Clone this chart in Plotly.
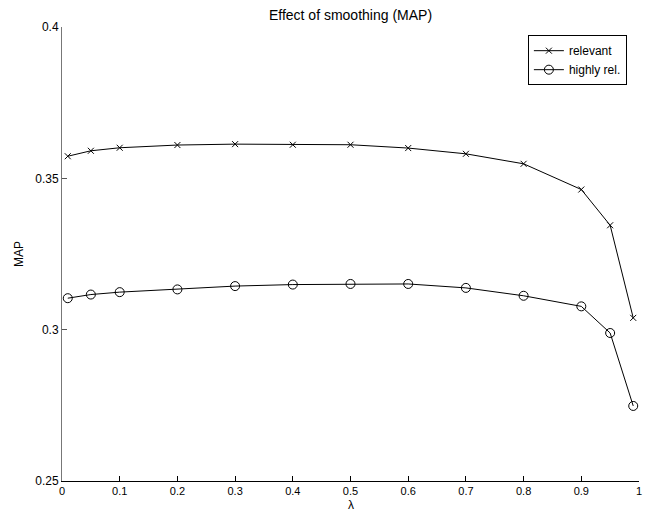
import plotly.graph_objects as go

lam = [0.01, 0.05, 0.1, 0.2, 0.3, 0.4, 0.5, 0.6, 0.7, 0.8, 0.9, 0.95, 0.99]
relevant = [0.3573, 0.3591, 0.3601, 0.3610, 0.3613, 0.3611, 0.3611, 0.3600, 0.3581, 0.3548, 0.3463, 0.3345, 0.3039]
highly_rel = [0.3104, 0.3116, 0.3124, 0.3133, 0.3144, 0.3149, 0.3151, 0.3151, 0.3138, 0.3112, 0.3077, 0.2989, 0.2748]

xticks = [0, 0.1, 0.2, 0.3, 0.4, 0.5, 0.6, 0.7, 0.8, 0.9, 1]
xtick_text = ["0", "0.1", "0.2", "0.3", "0.4", "0.5", "0.6", "0.7", "0.8", "0.9", "1"]
yticks = [0.25, 0.3, 0.35, 0.4]
ytick_text = ["0.25", "0.3", "0.35", "0.4"]

font = "Liberation Sans, Arial, Helvetica, sans-serif"

fig = go.Figure()
fig.add_trace(go.Scatter(
    x=lam, y=relevant, name="relevant", mode="lines+markers",
    line=dict(color="black", width=1),
    marker=dict(symbol="x-thin-open", size=6, color="black", line=dict(color="black", width=1)),
))
fig.add_trace(go.Scatter(
    x=lam, y=highly_rel, name="highly rel.", mode="lines+markers",
    line=dict(color="black", width=1),
    marker=dict(symbol="circle-open", size=9, color="black", line=dict(color="black", width=1)),
))

fig.update_layout(
    width=660, height=513,
    margin=dict(l=54, r=29, t=19, b=40),
    paper_bgcolor="white", plot_bgcolor="white",
    font=dict(family=font, size=12, color="black"),
    title=dict(text="Effect of smoothing (MAP)", x=0.5, xanchor="center",
               xref="paper", y=0.986, yanchor="middle", font=dict(size=14)),
    showlegend=True,
    legend=dict(x=0.979, y=0.982, xanchor="right", yanchor="top",
                bordercolor="black", borderwidth=1, bgcolor="white",
                font=dict(size=12), tracegroupgap=0, itemwidth=30),
    xaxis=dict(range=[0, 1], tickvals=xticks, ticktext=xtick_text,
               ticks="inside", ticklen=5, tickcolor="black",
               tickfont=dict(size=11),
               showline=True, linecolor="black", linewidth=1,
               showgrid=False, zeroline=False, automargin=False),
    yaxis=dict(range=[0.25, 0.4], tickvals=yticks, ticktext=ytick_text,
               ticks="inside", ticklen=5, tickcolor="#555",
               showline=True, linecolor="#777", linewidth=1,
               showgrid=False, zeroline=False, automargin=False,
               title=dict(text="MAP", standoff=9, font=dict(size=12))),
    annotations=[dict(text="λ", xref="paper", yref="paper", x=0.5, y=0,
                      xanchor="center", yanchor="middle", yshift=-24,
                      showarrow=False, font=dict(size=12))],
)

fig.write_html("out.html")
